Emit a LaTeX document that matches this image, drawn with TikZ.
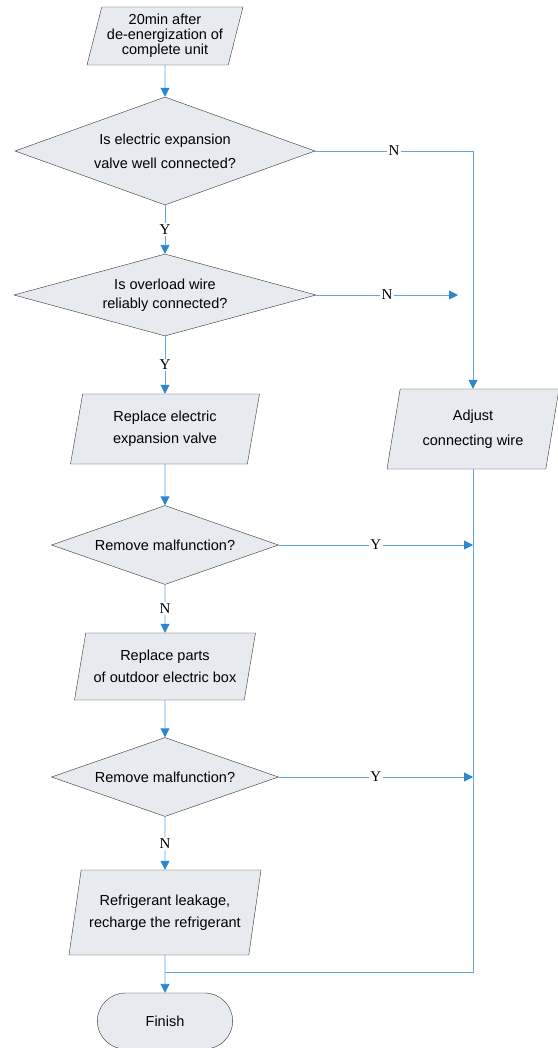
\documentclass[tikz,border=0pt]{standalone}
\usepackage{fontspec}
\setmainfont{Liberation Sans}
\newfontfamily\ynfont{Liberation Serif}
\usetikzlibrary{shapes.geometric, shapes.misc, positioning, arrows.meta}
\definecolor{linkblue}{RGB}{98,168,222}
\definecolor{tipblue}{RGB}{46,134,204}
\definecolor{boxgray}{RGB}{231,234,239}

\begin{document}
\begin{tikzpicture}[
        x=1pt, y=-1pt,
        >={Triangle[length=9pt,width=9pt,color=tipblue]},
        on grid,
        every node/.style={font=\fontsize{14.5}{22}\selectfont},
        io/.style={draw=black!80, fill=boxgray, trapezium, trapezium left angle=72,
            trapezium right angle=108, trapezium stretches body, align=center, inner sep=1pt},
        decision/.style={draw=black!80, fill=boxgray, diamond, align=center, inner sep=1pt},
        terminal/.style={draw=black!80, fill=boxgray, rounded rectangle,
            minimum width=142pt, minimum height=56pt},
        flow/.style={draw=linkblue, line width=0.9pt},
        yn/.style={fill=white, inner sep=1.5pt, font=\ynfont\fontsize{15}{15}\selectfont}
    ]
        \useasboundingbox (0,0) rectangle (557,1048);
        \node[io, minimum width=156pt, minimum height=58pt, font=\fontsize{14.5}{15}\selectfont] (s) at (165,36)
            {20min after\\de-energization of\\complete unit};
\node[decision, aspect=2.78, minimum width=300pt, minimum height=108pt, font=\fontsize{14.5}{24}\selectfont,
            below=115pt of s] (q1) {Is electric expansion\\valve well connected?};
        \node[decision, aspect=3.68, minimum width=302pt, minimum height=82pt, font=\fontsize{14.5}{19}\selectfont,
            below=144pt of q1] (q2) {Is overload wire\\reliably connected?};
        \node[io, minimum width=189pt, minimum height=70pt, below=134pt of q2] (r1)
            {Replace electric\\expansion valve};
\node[io, minimum width=172pt, minimum height=80pt, font=\fontsize{14.5}{25}\selectfont,
            right=308pt of r1] (a) {Adjust\\connecting wire};
        \node[decision, aspect=2.87, minimum width=227pt, minimum height=79pt, below=116pt of r1] (q3)
            {Remove malfunction?};
        \node[io, minimum width=181pt, minimum height=67pt, below=121.5pt of q3] (r2)
            {Replace parts\\of outdoor electric box};
\node[decision, aspect=2.87, minimum width=227pt, minimum height=79pt, below=110.5pt of r2] (q4)
            {Remove malfunction?};
        \node[io, minimum width=192pt, minimum height=85pt, below=135.5pt of q4] (r3)
            {Refrigerant leakage,\\recharge the refrigerant};
        \node[terminal, below=108.5pt of r3] (f) {Finish};
\coordinate[right=293pt of q2] (n2);
        \coordinate (y3) at (q3 -| a);
        \coordinate (y4) at (q4 -| a);
        \coordinate[below=59.5pt of r3] (m);
\path[->, flow]
        (s) edge (q1)
        (q1) edge node[yn] {Y} (q2)
        (q2) edge node[yn] {Y} (r1)
        (r1) edge (q3)
        (q3) edge node[yn] {N} (r2)
        (r2) edge (q4)
        (q4) edge node[yn] {N} (r3)
        (r3) edge (f);
        \draw[->, flow] (q1.east) -| node[yn, pos=0.25] {N} (a.north);
        \draw[->, flow] (q2.east) -- node[yn] {N} (n2);
        \draw[->, flow] (q3.east) -- node[yn] {Y} (y3);
        \draw[->, flow] (q4.east) -- node[yn] {Y} (y4);
        \draw[flow] (a.south) |- (m);
\end{tikzpicture}
\end{document}
